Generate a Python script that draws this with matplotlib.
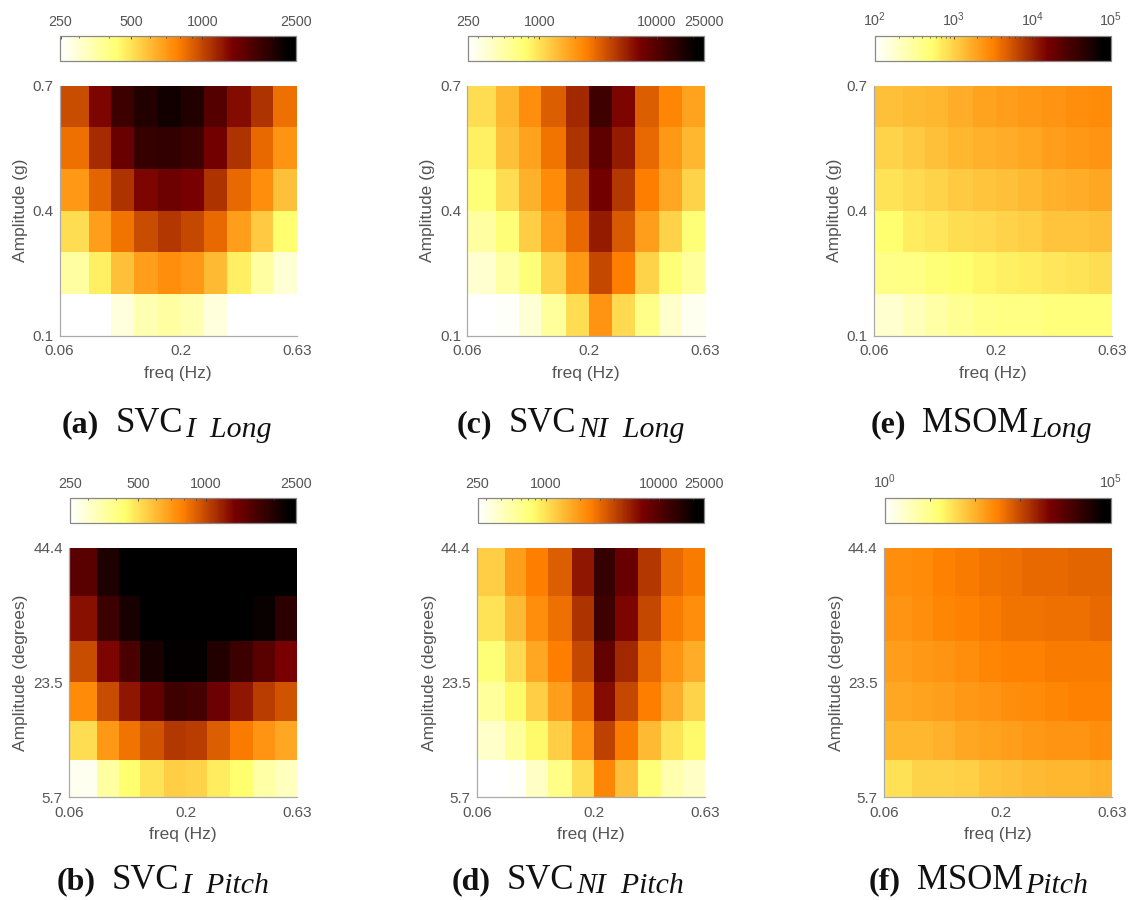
import matplotlib
matplotlib.use('Agg')
import matplotlib.pyplot as plt
import numpy as np
from matplotlib.colors import LinearSegmentedColormap, LogNorm
from matplotlib.ticker import FixedLocator, NullFormatter

plt.rcParams['font.family'] = ['Liberation Sans', 'DejaVu Sans']
plt.rcParams['mathtext.fontset'] = 'custom'
plt.rcParams['mathtext.rm'] = 'Liberation Sans'
plt.rcParams['mathtext.it'] = 'Liberation Sans:italic'
plt.rcParams['mathtext.bf'] = 'Liberation Sans:bold'

W, H = 1131, 900
TEXT = '#555555'
EDGE = '#aaaaaa'

# cell edges shared by the panels
freq_edges = [0.06, 0.08, 0.1, 0.125, 0.16, 0.2, 0.25, 0.315, 0.4, 0.5, 0.63]
long_edges = [0.1, 0.2, 0.3, 0.4, 0.5, 0.6, 0.7]
pitch_edges = [5.7, 11.5, 17.5, 23.5, 30.0, 36.9, 44.4]

freq_ticks = [0.06, 0.2, 0.63]
freq_labels = ['0.06', '0.2', '0.63']
long_ticks = [0.1, 0.4, 0.7]
long_labels = ['0.1', '0.4', '0.7']
pitch_ticks = [5.7, 23.5, 44.4]
pitch_labels = ['5.7', '23.5', '44.4']

# rows run from the top of each panel to the bottom
svc_i_long = [
    [973, 1312, 1770, 1986, 2128, 1986, 1577, 1282, 1091, 847],
    [847, 1117, 1439, 1811, 1853, 1770, 1374, 1091, 867, 721],
    [705, 887, 1091, 1312, 1406, 1342, 1091, 867, 738, 586],
    [510, 689, 828, 973, 1066, 995, 867, 689, 560, 434],
    [361, 466, 586, 689, 738, 705, 600, 466, 361, 294],
    [250, 250, 287, 337, 361, 337, 287, 250, 250, 250],
]
svc_i_pitch = [
    [1542, 2032, 2500, 2500, 2500, 2500, 2500, 2500, 2500, 2500],
    [1253, 1770, 2080, 2500, 2500, 2500, 2500, 2500, 2228, 1896],
    [973, 1312, 1651, 2080, 2280, 2280, 1986, 1770, 1542, 1342],
    [755, 973, 1225, 1472, 1730, 1690, 1406, 1225, 1042, 951],
    [510, 705, 828, 951, 1066, 1042, 908, 809, 721, 658],
    [268, 361, 434, 499, 547, 534, 476, 434, 353, 322],
]
svc_ni_long = [
    [1043, 1507, 2178, 3296, 5224, 11966, 6886, 3296, 2388, 1811],
    [867, 1374, 1811, 2741, 4763, 9078, 5727, 3006, 1986, 1507],
    [721, 1042, 1577, 2280, 3785, 7551, 4550, 2500, 1730, 1143],
    [522, 721, 1197, 1811, 3006, 5727, 3451, 1897, 1143, 721],
    [361, 499, 721, 1143, 1986, 3962, 2500, 1143, 721, 547],
    [250, 262, 346, 547, 1042, 2079, 1091, 628, 379, 287],
]
svc_ni_pitch = [
    [1197, 1897, 2500, 3296, 5998, 13120, 8279, 4550, 3006, 2618],
    [995, 1439, 2178, 2871, 4763, 11966, 6886, 3962, 2618, 2178],
    [721, 1091, 1730, 2500, 3962, 8670, 5224, 3006, 2079, 1652],
    [547, 791, 1197, 1897, 3006, 6576, 3962, 2500, 1652, 1143],
    [379, 547, 791, 1197, 2079, 4150, 2618, 1439, 995, 791],
    [250, 262, 396, 628, 1042, 2388, 1374, 721, 476, 396],
]
msom_long = [
    [1288, 1380, 1479, 1698, 1950, 2089, 2239, 2399, 2570, 2754],
    [977, 1122, 1288, 1479, 1585, 1698, 1820, 2089, 2239, 2399],
    [794, 912, 977, 1122, 1202, 1288, 1380, 1585, 1698, 1820],
    [525, 692, 741, 851, 912, 977, 1047, 1202, 1202, 1288],
    [398, 427, 490, 525, 603, 646, 692, 741, 794, 851],
    [174, 229, 282, 347, 398, 427, 427, 457, 457, 457],
]
msom_pitch = [
    [224, 251, 316, 355, 398, 447, 501, 501, 562, 562],
    [200, 224, 282, 316, 355, 398, 398, 447, 447, 501],
    [158, 178, 200, 224, 282, 316, 316, 355, 355, 355],
    [126, 141, 158, 178, 200, 224, 251, 282, 316, 316],
    [89, 89, 100, 126, 141, 158, 178, 200, 200, 224],
    [32, 45, 45, 50, 63, 71, 79, 89, 89, 100],
]

# colour limits and colorbar ticks
range_i = (250, 2500)
range_ni = (250, 25000)
range_ml = (100, 100000)
range_mp = (1, 100000)

ticks_i = [250, 500, 1000, 2500]
labels_i = ['250', '500', '1000', '2500']
minor_i = [300, 400, 600, 700, 800, 900, 2000]
ticks_ni = [250, 1000, 10000, 25000]
labels_ni = ['250', '1000', '10000', '25000']
minor_ni = [300, 400, 500, 600, 700, 800, 900, 2000, 3000, 4000, 5000, 6000, 7000, 8000, 9000, 20000]
ticks_ml = [100, 1000, 10000, 100000]
labels_ml = ['$10^{2}$', '$10^{3}$', '$10^{4}$', '$10^{5}$']
minor_ml = [200, 300, 400, 500, 600, 700, 800, 900, 2000, 3000, 4000, 5000, 6000, 7000, 8000, 9000]
ticks_mp = [1, 10, 100, 1000, 100000]
labels_mp = ['$10^{0}$', '', '', '', '$10^{5}$']

hot = LinearSegmentedColormap.from_list('hot_paper', [
    (0.00, '#ffffff'), (0.24, '#ffff70'), (0.50, '#ff8000'),
    (0.73, '#780000'), (0.97, '#000000'), (1.00, '#000000'),
])


def px_axes(fig, x0, y0, x1, y1):
    return fig.add_axes([x0 / W, 1 - y1 / H, (x1 - x0) / W, (y1 - y0) / H])


def draw_panel(fig, box, cbox, values, yedges, yticks, ylabels, ylabel,
               vrange, cticks, clabels, cminor, ylabel_px):
    ax = px_axes(fig, *box)
    cax = px_axes(fig, *cbox)
    mesh = ax.pcolormesh(freq_edges, yedges, np.array(values)[::-1], cmap=hot,
                         norm=LogNorm(*vrange), linewidth=0, rasterized=True)
    ax.set_xscale('log')
    ax.set_xlim(freq_edges[0], freq_edges[-1])
    ax.set_ylim(yedges[0], yedges[-1])
    ax.xaxis.set_major_locator(FixedLocator(freq_ticks))
    ax.xaxis.set_minor_locator(FixedLocator([]))
    ax.xaxis.set_minor_formatter(NullFormatter())
    ax.set_xticklabels(freq_labels)
    ax.set_yticks(yticks)
    ax.set_yticklabels(ylabels)
    ax.tick_params(axis='both', length=0, labelsize=11, labelcolor=TEXT)
    ax.tick_params(axis='x', pad=6)
    ax.tick_params(axis='y', pad=4.5)
    ax.set_xlabel('freq (Hz)', fontsize=12.5, color=TEXT)
    ax.set_ylabel(ylabel, fontsize=12.5, color=TEXT)
    ax.xaxis.set_label_coords(0.5, -30 / (box[3] - box[1]))
    ax.yaxis.set_label_coords(-ylabel_px / (box[2] - box[0]), 0.5)
    ax.spines[['top', 'right']].set_visible(False)
    ax.spines[['left', 'bottom']].set_color(EDGE)
    ax.spines[['left', 'bottom']].set_linewidth(0.9)

    cb = fig.colorbar(mesh, cax=cax, orientation='horizontal')
    cb.solids.set_rasterized(True)
    cax.xaxis.set_ticks_position('top')
    cax.xaxis.set_major_locator(FixedLocator(cticks))
    cax.set_xticklabels(clabels)
    cax.xaxis.set_minor_locator(FixedLocator(cminor))
    cax.xaxis.set_minor_formatter(NullFormatter())
    cax.tick_params(axis='x', which='major', direction='in', length=2, width=0.6,
                    color='#333333', labelsize=10.3, labelcolor=TEXT, pad=5)
    cax.tick_params(axis='x', which='minor', direction='in', length=1.2, width=0.5,
                    color='#333333')
    cb.outline.set_edgecolor('#888888')
    cb.outline.set_linewidth(0.9)


def caption(fig, x, y, tag, name, sub, drop):
    # three pieces, each starts where the one before ended
    rend = fig.canvas.get_renderer()
    serif = ['Liberation Serif', 'DejaVu Serif']
    t = fig.text(x / W, 1 - y / H, tag, fontsize=23, fontweight='bold', family=serif,
                 color='#111111', va='baseline')
    x = t.get_window_extent(rend).x1 + 16
    t = fig.text(x / W, 1 - y / H, name, fontsize=25, family=serif,
                 color='#111111', va='baseline')
    x = t.get_window_extent(rend).x1 + 2
    fig.text(x / W, 1 - (y + drop) / H, sub, fontsize=21.5, style='italic', family=serif,
             color='#111111', va='baseline')


fig = plt.figure(figsize=(W / 100, H / 100), dpi=100)
fig.patch.set_facecolor('white')

draw_panel(fig, (59.5, 85.7, 296.8, 335.7), (60.5, 35.5, 296.3, 61), svc_i_long,
           long_edges, long_ticks, long_labels, 'Amplitude (g)',
           range_i, ticks_i, labels_i, minor_i, 31.5)
draw_panel(fig, (467.3, 85.7, 705, 335.7), (468.3, 35.5, 704, 61), svc_ni_long,
           long_edges, long_ticks, long_labels, 'Amplitude (g)',
           range_ni, ticks_ni, labels_ni, minor_ni, 32)
draw_panel(fig, (873.7, 85.7, 1112, 335.7), (875, 35.5, 1111, 61), msom_long,
           long_edges, long_ticks, long_labels, 'Amplitude (g)',
           range_ml, ticks_ml, labels_ml, minor_ml, 32)
draw_panel(fig, (69, 547.7, 297, 797.3), (69.7, 497.5, 296.2, 522.7), svc_i_pitch,
           pitch_edges, pitch_ticks, pitch_labels, 'Amplitude (degrees)',
           range_i, ticks_i, labels_i, minor_i, 41)
draw_panel(fig, (476.7, 547.7, 705, 797.3), (477.5, 497.5, 704, 522.7), svc_ni_pitch,
           pitch_edges, pitch_ticks, pitch_labels, 'Amplitude (degrees)',
           range_ni, ticks_ni, labels_ni, minor_ni, 40)
draw_panel(fig, (883.7, 547.7, 1112, 797.3), (884.5, 497.5, 1111, 522.7), msom_pitch,
           pitch_edges, pitch_ticks, pitch_labels, 'Amplitude (degrees)',
           range_mp, ticks_mp, labels_mp, [], 40)

caption(fig, 62, 432, '(a)', 'SVC', 'I  Long', 5)
caption(fig, 457, 432, '(c)', 'SVC', 'NI  Long', 5)
caption(fig, 871, 432, '(e)', 'MSOM', 'Long', 5)
caption(fig, 57, 889, '(b)', 'SVC', 'I  Pitch', 4)
caption(fig, 452, 889, '(d)', 'SVC', 'NI  Pitch', 4)
caption(fig, 869, 889, '(f)', 'MSOM', 'Pitch', 4)

fig.savefig('out.png', dpi=100, facecolor='white')
plt.close(fig)
